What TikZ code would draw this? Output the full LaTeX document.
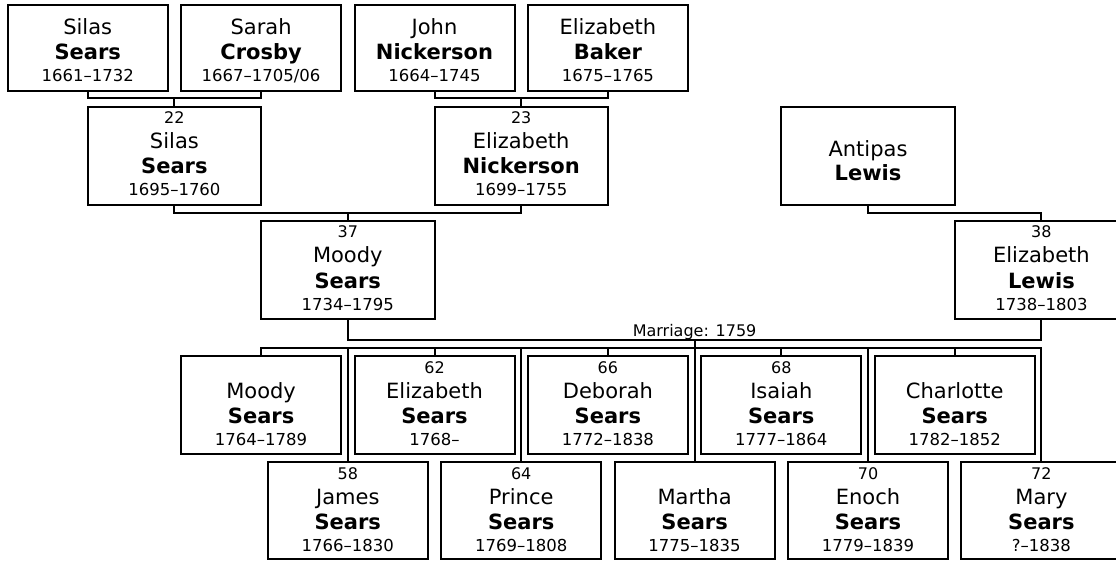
\documentclass[tikz,border=0pt]{standalone}
\usepackage{fontspec}
\setmainfont{DejaVu Sans}
\usetikzlibrary{calc}
\tikzset{
  pbox/.style={draw=black, line width=2pt, inner sep=0pt, outer sep=0pt, anchor=north west, fill=white},
  link/.style={draw=black, line width=2pt},
  txt/.style={inner sep=0pt, outer sep=0pt, anchor=base},
  numtxt/.style={txt, font=\fontsize{16}{19}\selectfont},
  firsttxt/.style={txt, font=\fontsize{21}{25}\selectfont},
  lasttxt/.style={txt, font=\fontsize{21}{25}\selectfont\bfseries},
  datetxt/.style={txt, font=\fontsize{16.5}{20}\selectfont},
  marrtxt/.style={txt, font=\fontsize{16}{19}\selectfont},
}
\newcommand{\pbx}[5]{\node[pbox, minimum width=#4pt, minimum height=#5pt] (#1) at (#2,#3) {};}
% standard text: node, number, first, last, dates
\newcommand{\ptxt}[5]{%
  \node[numtxt] (#1n) at ([yshift=-17pt]#1.north) {#2};
  \node[firsttxt] (#1f) at ([yshift=-42pt]#1.north) {#3};
  \node[lasttxt] (#1l) at ([yshift=-67pt]#1.north) {#4};
  \node[datetxt] (#1d) at ([yshift=-89pt]#1.north) {#5};}
\newcommand{\ptxtnn}[4]{%
  \node[firsttxt] (#1f) at ([yshift=-42pt]#1.north) {#2};
  \node[lasttxt] (#1l) at ([yshift=-67pt]#1.north) {#3};
  \node[datetxt] (#1d) at ([yshift=-89pt]#1.north) {#4};}
\newcommand{\ptxttop}[4]{%
  \node[firsttxt] (#1f) at ([yshift=-30pt]#1.north) {#2};
  \node[lasttxt] (#1l) at ([yshift=-55pt]#1.north) {#3};
  \node[datetxt] (#1d) at ([yshift=-77pt]#1.north) {#4};}
\begin{document}
\begin{tikzpicture}[x=1pt, y=-1pt]
\useasboundingbox (0,0) rectangle (1116,561);
\fill[white] (0,0) rectangle (1116,561);
\clip (0,0) rectangle (1116,561);
% row 1
\pbx{a1}{7.7}{5}{160}{86}
\pbx{a2}{181.1}{5}{160}{86}
\pbx{a3}{354.5}{5}{160}{86}
\pbx{a4}{527.9}{5}{160}{86}
\ptxttop{a1}{Silas}{Sears}{1661–1732}
\ptxttop{a2}{Sarah}{Crosby}{1667–1705/06}
\ptxttop{a3}{John}{Nickerson}{1664–1745}
\ptxttop{a4}{Elizabeth}{Baker}{1675–1765}
% row 2
\pbx{g22}{87.7}{107}{173.4}{98}
\pbx{g23}{434.5}{107}{173.4}{98}
\pbx{ant}{781.3}{107}{173.4}{98}
\ptxt{g22}{22}{Silas}{Sears}{1695–1760}
\ptxt{g23}{23}{Elizabeth}{Nickerson}{1699–1755}
\node[firsttxt] (antf) at ([yshift=-50pt]ant.north) {Antipas};
\node[lasttxt] (antl) at ([yshift=-74pt]ant.north) {Lewis};
% row 3
\pbx{m37}{261.1}{221}{173.4}{98}
\pbx{l38}{954.7}{221}{173.4}{98}
\ptxt{m37}{37}{Moody}{Sears}{1734–1795}
\ptxt{l38}{38}{Elizabeth}{Lewis}{1738–1803}
% children top row
\pbx{c1}{181.1}{356}{160}{98}
\pbx{c3}{354.5}{356}{160}{98}
\pbx{c5}{527.9}{356}{160}{98}
\pbx{c7}{701.3}{356}{160}{98}
\pbx{c9}{874.7}{356}{160}{98}
\ptxtnn{c1}{Moody}{Sears}{1764–1789}
\ptxt{c3}{62}{Elizabeth}{Sears}{1768–}
\ptxt{c5}{66}{Deborah}{Sears}{1772–1838}
\ptxt{c7}{68}{Isaiah}{Sears}{1777–1864}
\ptxtnn{c9}{Charlotte}{Sears}{1782–1852}
% children bottom row
\pbx{c2}{267.8}{462}{160}{97}
\pbx{c4}{441.2}{462}{160}{97}
\pbx{c6}{614.6}{462}{160}{97}
\pbx{c8}{788}{462}{160}{97}
\pbx{c10}{961.4}{462}{160}{97}
\ptxt{c2}{58}{James}{Sears}{1766–1830}
\ptxt{c4}{64}{Prince}{Sears}{1769–1808}
\ptxtnn{c6}{Martha}{Sears}{1775–1835}
\ptxt{c8}{70}{Enoch}{Sears}{1779–1839}
\ptxt{c10}{72}{Mary}{Sears}{?–1838}
% connectors
\coordinate (j1) at (174.4,98);
\coordinate (j2) at (521.2,98);
\coordinate (j3) at (347.8,213);
\coordinate (j4) at (868,213);
\coordinate (j5) at (694.6,340);
\coordinate (bus) at (1041.4,348);
\draw[link] (a1.south) |- (j1) -| (a2.south);
\draw[link] (j1) -- (g22.north);
\draw[link] (a3.south) |- (j2) -| (a4.south);
\draw[link] (j2) -- (g23.north);
\draw[link] (g22.south) |- (j3) -| (g23.south);
\draw[link] (j3) -- (m37.north);
\draw[link] (ant.south) |- (j4) -| (l38.north);
\draw[link] (m37.south) |- (j5) -| (l38.south);
\node[marrtxt] (marr) at (694.6,336) {Marriage: 1759};
\draw[link] (c1.north) |- (bus) -- (c10.north);
\draw[link] (c3.north) -- (c3.north |- bus);
\draw[link] (c5.north) -- (c5.north |- bus);
\draw[link] (c7.north) -- (c7.north |- bus);
\draw[link] (c9.north) -- (c9.north |- bus);
\draw[link] (c2.north) -- (c2.north |- bus);
\draw[link] (c4.north) -- (c4.north |- bus);
\draw[link] (c8.north) -- (c8.north |- bus);
\draw[link] (j5) -- (c6.north);
\end{tikzpicture}
\end{document}
